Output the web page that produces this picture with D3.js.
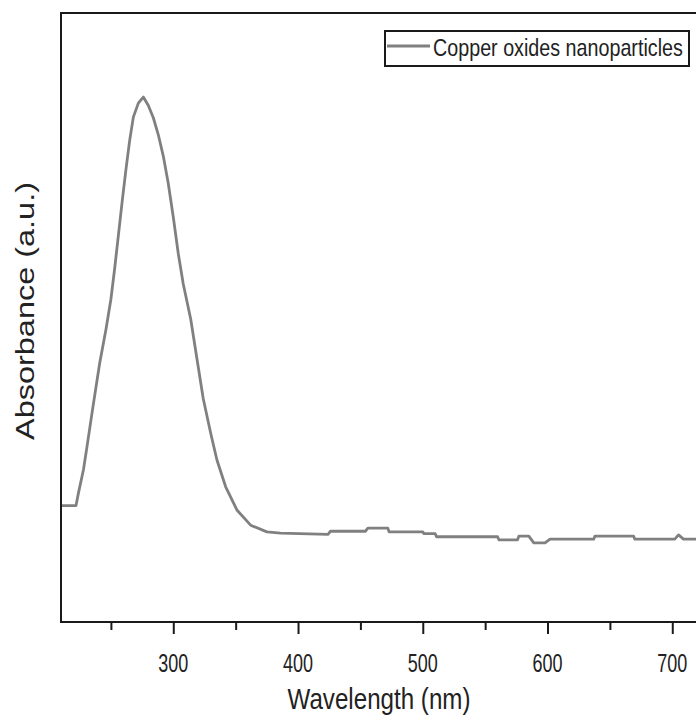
<!DOCTYPE html>
<html>
<head>
<meta charset="utf-8">
<script src="https://cdn.jsdelivr.net/npm/d3@7"></script>
<style>
  body { margin: 0; background: #fff; }
  svg { display: block; }
</style>
</head>
<body>
<div id="vis"></div>
<script>
// wavelength (nm)
const wavelength = [210, 222, 224, 228, 231, 235, 238, 241, 246, 250, 253, 256, 259, 262, 265, 268, 272, 276,
  280, 284, 288, 292, 296, 300, 304, 308, 314, 319, 324, 330, 335, 342, 351, 362, 375, 386,
  424, 426, 454, 456, 472, 473, 500, 501, 510, 511, 560, 561, 576, 577, 585, 589, 598, 602,
  637, 638, 669, 670, 702, 705, 709, 720];
// absorbance (a.u.), arbitrary scale
const absorbance = [0.191, 0.191, 0.212, 0.250, 0.290, 0.345, 0.385, 0.425, 0.480, 0.530, 0.580, 0.635, 0.690, 0.742, 0.790, 0.829, 0.852, 0.862,
  0.848, 0.828, 0.800, 0.765, 0.720, 0.665, 0.605, 0.555, 0.497, 0.432, 0.367, 0.310, 0.266, 0.222, 0.184, 0.159, 0.148, 0.146,
  0.144, 0.149, 0.149, 0.154, 0.154, 0.148, 0.148, 0.145, 0.145, 0.140, 0.140, 0.135, 0.135, 0.141, 0.141, 0.130, 0.130, 0.136,
  0.136, 0.141, 0.141, 0.136, 0.136, 0.143, 0.136, 0.136];

const majorTicks = [300, 400, 500, 600, 700];
const minorTicks = [250, 350, 450, 550, 650];
const seriesName = "Copper oxides nanoparticles";

const WIDTH = 696;
const HEIGHT = 716;
const margin = { top: 13, left: 61, bottom: 94 };
const plotBottom = HEIGHT - margin.bottom;
const fuente = "Liberation Sans, Arial, sans-serif";

const svg = d3.select("#vis")
  .append("svg")
  .attr("width", WIDTH)
  .attr("height", HEIGHT);

// plot runs past the right edge of the window (cropped figure)
const x = d3.scaleLinear()
  .domain([210, 800])
  .range([margin.left, margin.left + 590 * 1.2475]);

const y = d3.scaleLinear()
  .domain([0, 1])
  .range([plotBottom, margin.top]);

const datos = wavelength.map((w, i) => ({ w: w, a: absorbance[i] }));

// squeeze a text horizontally to a given width (narrow font look)
function estrechar(sel, ancho, cx, cy, anchor) {
  sel.attr("text-anchor", anchor || "start");
  const natural = sel.node().getComputedTextLength();
  const k = ancho / natural;
  sel.attr("x", 0).attr("y", 0)
    .attr("transform", `translate(${cx},${cy}) scale(${k},1)`);
}

// curve
const linea = d3.line()
  .x(d => x(d.w))
  .y(d => y(d.a));

svg.append("path")
  .datum(datos)
  .attr("fill", "none")
  .attr("stroke", "#808080")
  .attr("stroke-width", 2.8)
  .attr("stroke-linejoin", "round")
  .attr("d", linea);

// frame
svg.append("rect")
  .attr("x", margin.left)
  .attr("y", margin.top)
  .attr("width", x.range()[1] - margin.left)
  .attr("height", plotBottom - margin.top)
  .attr("fill", "none")
  .attr("stroke", "#1a1a1a")
  .attr("stroke-width", 2);

// x axis, ticks outward
const ejeX = svg.append("g")
  .attr("transform", `translate(0,${plotBottom})`)
  .call(d3.axisBottom(x).tickValues(majorTicks).tickSize(12).tickSizeOuter(0).tickFormat(""))
  .call(g => g.select(".domain").remove());
ejeX.selectAll(".tick line").attr("stroke", "#1a1a1a").attr("stroke-width", 2);

svg.append("g")
  .attr("transform", `translate(0,${plotBottom})`)
  .call(d3.axisBottom(x).tickValues(minorTicks).tickSize(8).tickFormat(""))
  .call(g => g.select(".domain").remove())
  .selectAll(".tick line").attr("stroke", "#1a1a1a").attr("stroke-width", 2);

// tick labels
majorTicks.forEach(t => {
  const lab = svg.append("text")
    .attr("fill", "#222")
    .style("font-family", fuente)
    .style("font-size", "26px")
    .text(t);
  estrechar(lab, 30, x(t), plotBottom + 50, "middle");
});

// axis titles
const tituloX = svg.append("text")
  .attr("fill", "#222")
  .style("font-family", fuente)
  .style("font-size", "30px")
  .text("Wavelength (nm)");
estrechar(tituloX, 183, 379, 709, "middle");

svg.append("text")
  .attr("transform", "translate(34,311) rotate(-90)")
  .attr("text-anchor", "middle")
  .attr("fill", "#222")
  .style("font-family", fuente)
  .style("font-size", "26px")
  .attr("textLength", 258)
  .attr("lengthAdjust", "spacingAndGlyphs")
  .text("Absorbance (a.u.)");

// legend
const leyenda = svg.append("g").attr("transform", "translate(385,31)");
leyenda.append("rect")
  .attr("width", 304)
  .attr("height", 35)
  .attr("fill", "#fff")
  .attr("stroke", "#1a1a1a")
  .attr("stroke-width", 2);
leyenda.append("line")
  .attr("x1", 2).attr("x2", 45)
  .attr("y1", 15).attr("y2", 15)
  .attr("stroke", "#808080")
  .attr("stroke-width", 3);
const textoLeyenda = leyenda.append("text")
  .attr("fill", "#222")
  .style("font-family", fuente)
  .style("font-size", "24px")
  .text(seriesName);
estrechar(textoLeyenda, 250, 48, 25, "start");
</script>
</body>
</html>
